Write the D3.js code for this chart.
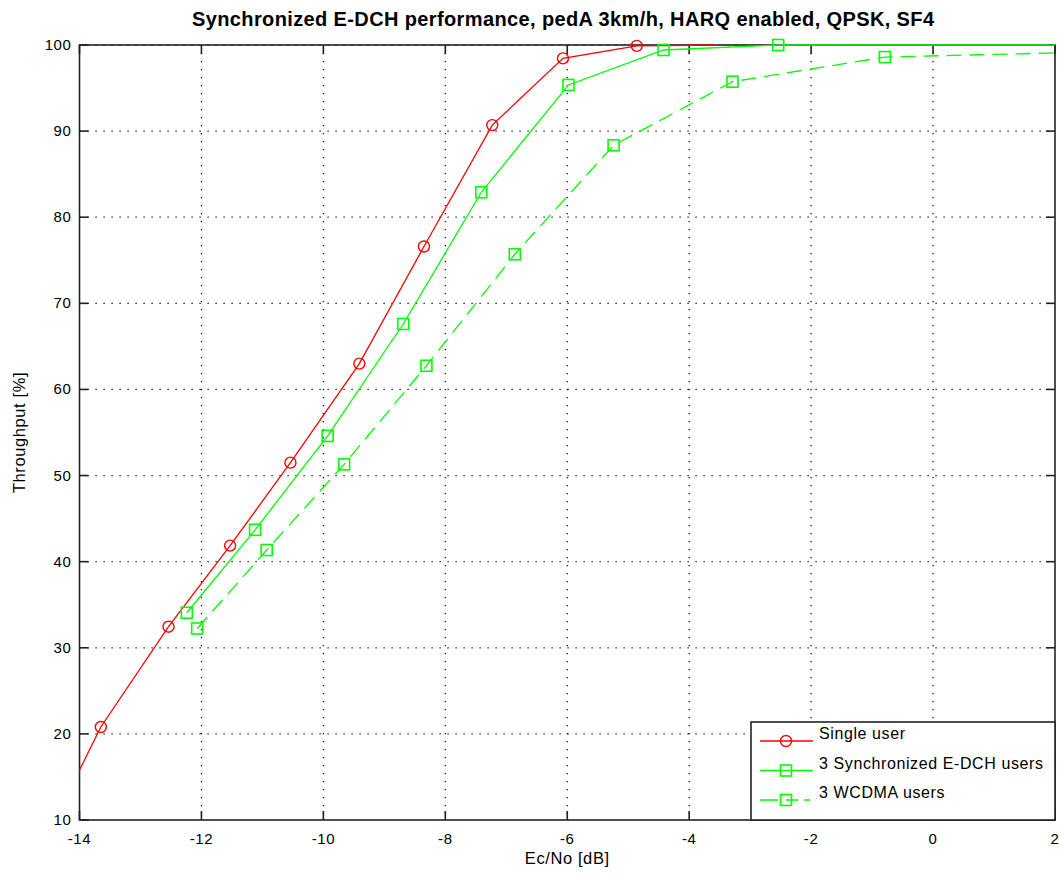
<!DOCTYPE html>
<html>
<head>
<meta charset="utf-8">
<title>Synchronized E-DCH performance</title>
<script src="https://cdn.jsdelivr.net/npm/d3@7/dist/d3.min.js"></script>
<style>
body { margin: 0; background: #fff; }
svg { font-family: "Liberation Sans", Arial, Helvetica, sans-serif; }
.grid line { stroke: #000; stroke-width: 1.2; stroke-dasharray: 1.2,6.8; }
.tick-label { font-size: 15px; letter-spacing: 0.6px; fill: #000; }
.axis-title { font-size: 16.5px; letter-spacing: 0.6px; fill: #000; }
.title { font-size: 20px; font-weight: bold; fill: #000; }
.legend text { font-size: 16px; letter-spacing: 0.6px; fill: #000; }
</style>
</head>
<body>
<svg width="1059" height="875"></svg>
<script>
// values
var singleX = [-14.7, -13.65, -12.54, -11.53, -10.54, -9.41, -8.35, -7.23, -6.07, -4.86, -3.6];
var singleY = [5.8, 20.8, 32.45, 41.86, 51.5, 63.0, 76.6, 90.7, 98.45, 99.9, 100];

var syncX = [-12.24, -11.12, -9.93, -8.69, -7.41, -5.98, -4.42, -2.54, 2.5];
var syncY = [34.07, 43.7, 54.6, 67.6, 82.9, 95.36, 99.42, 100, 100];

var wcdmaX = [-12.07, -10.93, -9.66, -8.31, -6.86, -5.24, -3.29, -0.79, 2.4];
var wcdmaY = [32.24, 41.35, 51.3, 62.75, 75.7, 88.35, 95.74, 98.6, 99.15];

var xTicks = [-14, -12, -10, -8, -6, -4, -2, 0, 2];
var yTicks = [10, 20, 30, 40, 50, 60, 70, 80, 90, 100];
var seriesNames = ["Single user", "3 Synchronized E-DCH users", "3 WCDMA users"];

var svg = d3.select("svg");
var pLeft = 79.5, pRight = 1055, pTop = 45, pBottom = 820;

var x = d3.scaleLinear().domain([-14, 2]).range([pLeft, pRight]);
var y = d3.scaleLinear().domain([10, 100]).range([pBottom, pTop]);

var series = [
  {name: seriesNames[0], xs: singleX, ys: singleY, color: "#ff0000", marker: "circle", dash: null},
  {name: seriesNames[1], xs: syncX, ys: syncY, color: "#00ff00", marker: "square", dash: null},
  {name: seriesNames[2], xs: wcdmaX, ys: wcdmaY, color: "#00ff00", marker: "square", dash: "15,8"}
];

svg.append("defs").append("clipPath").attr("id", "plot")
  .append("rect").attr("x", pLeft).attr("y", pTop - 8)
  .attr("width", pRight - pLeft).attr("height", pBottom - pTop + 8);

// grid
var grid = svg.append("g").attr("class", "grid");
grid.selectAll(".vx").data(xTicks.slice(1, -1)).enter().append("line")
  .attr("x1", d => x(d)).attr("x2", d => x(d)).attr("y1", pTop).attr("y2", pBottom);
grid.selectAll(".hy").data(yTicks.slice(1)).enter().append("line")
  .attr("y1", d => y(d)).attr("y2", d => y(d)).attr("x1", pLeft).attr("x2", pRight);

// axes box
svg.append("rect").attr("x", pLeft).attr("y", pTop)
  .attr("width", pRight - pLeft).attr("height", pBottom - pTop)
  .attr("fill", "none").attr("stroke", "#222").attr("stroke-width", 1.6);

// ticks (inward, all four sides)
var ticks = svg.append("g").attr("stroke", "#222").attr("stroke-width", 1.6);
xTicks.forEach(function(t) {
  ticks.append("line").attr("x1", x(t)).attr("x2", x(t)).attr("y1", pBottom).attr("y2", pBottom - 9);
  ticks.append("line").attr("x1", x(t)).attr("x2", x(t)).attr("y1", pTop).attr("y2", pTop + 9);
});
yTicks.forEach(function(t) {
  ticks.append("line").attr("y1", y(t)).attr("y2", y(t)).attr("x1", pLeft).attr("x2", pLeft + 9);
  ticks.append("line").attr("y1", y(t)).attr("y2", y(t)).attr("x1", pRight).attr("x2", pRight - 9);
});

svg.append("g").selectAll("text").data(xTicks).enter().append("text")
  .attr("class", "tick-label").attr("x", d => x(d)).attr("y", pBottom + 24)
  .attr("text-anchor", "middle").text(d => d);
svg.append("g").selectAll("text").data(yTicks).enter().append("text")
  .attr("class", "tick-label").attr("x", pLeft - 8).attr("y", d => y(d) + 5)
  .attr("text-anchor", "end").text(d => d);

// lines and markers
var line = d3.line().x(d => x(d[0])).y(d => y(d[1]));
var plot = svg.append("g").attr("clip-path", "url(#plot)");

function drawMarkers(g, coords, s) {
  if (s.marker === "circle") {
    g.selectAll(null).data(coords).enter().append("circle")
      .attr("cx", d => d[0]).attr("cy", d => d[1]).attr("r", 5.5)
      .attr("fill", "none").attr("stroke", s.color).attr("stroke-width", 1.4);
  } else {
    g.selectAll(null).data(coords).enter().append("rect")
      .attr("x", d => d[0] - 5.5).attr("y", d => d[1] - 5.5)
      .attr("width", 11).attr("height", 11)
      .attr("fill", "none").attr("stroke", s.color).attr("stroke-width", 1.6);
  }
}

series.forEach(function(s, si) {
  var pts = s.xs.map((v, i) => [v, s.ys[i]]);
  plot.append("path").datum(pts).attr("d", line)
    .attr("fill", "none").attr("stroke", s.color).attr("stroke-width", 1.3)
    .attr("stroke-dasharray", s.dash);
  // the single-user end point on the top edge carries no marker in the picture
  var shown = pts.filter((p, i) => p[0] >= -14 && p[0] <= 2 && !(si === 0 && i === pts.length - 1));
  drawMarkers(plot, shown.map(p => [x(p[0]), y(p[1])]), s);
});

// legend
var lg = svg.append("g").attr("class", "legend");
var lx = 751, ly = 722;
lg.append("rect").attr("x", lx).attr("y", ly).attr("width", pRight - lx).attr("height", pBottom - ly)
  .attr("fill", "#fff").attr("stroke", "#222").attr("stroke-width", 1.6);
var rowY = [741, 770.5, 800];
series.forEach(function(s, i) {
  lg.append("line").attr("x1", 760).attr("x2", 813).attr("y1", rowY[i]).attr("y2", rowY[i])
    .attr("stroke", s.color).attr("stroke-width", 1.3).attr("stroke-dasharray", s.dash ? "18,8,12,6,6" : null);
  drawMarkers(lg, [[786, rowY[i]]], s);
  lg.append("text").attr("x", 819).attr("y", rowY[i] - 2).text(s.name);
});

// titles
svg.append("text").attr("class", "title").attr("x", 192).attr("y", 26)
  .attr("textLength", 742).attr("lengthAdjust", "spacing")
  .text("Synchronized E-DCH performance, pedA 3km/h, HARQ enabled, QPSK, SF4");
svg.append("text").attr("class", "axis-title").attr("x", (pLeft + pRight) / 2).attr("y", 864)
  .attr("text-anchor", "middle").text("Ec/No [dB]");
svg.append("text").attr("class", "axis-title")
  .attr("transform", "translate(25," + ((pTop + pBottom) / 2) + ") rotate(-90)")
  .attr("text-anchor", "middle").text("Throughput [%]");
</script>
</body>
</html>
